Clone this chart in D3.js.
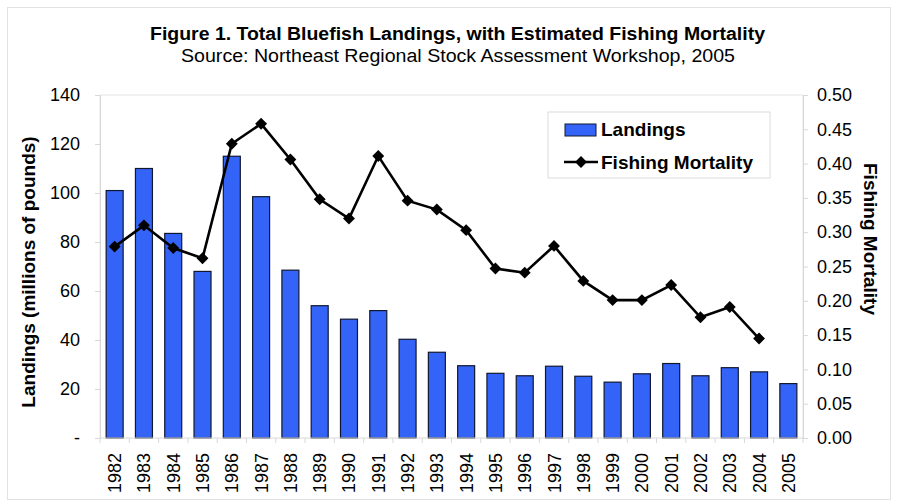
<!DOCTYPE html>
<html>
<head>
<meta charset="utf-8">
<script src="https://cdn.jsdelivr.net/npm/d3@7"></script>
<style>
body { margin: 0; background: #fff; }
text { font-family: Arial, "Liberation Sans", sans-serif; fill: #000; }
</style>
</head>
<body>
<script>
const years = ["1982","1983","1984","1985","1986","1987","1988","1989","1990","1991","1992","1993",
  "1994","1995","1996","1997","1998","1999","2000","2001","2002","2003","2004","2005"];
const landings = [101, 110, 83.5, 68, 115, 98.5, 68.5, 54, 48.5, 52, 40.3, 35,
  29.5, 26.4, 25.4, 29.3, 25.2, 22.8, 26.2, 30.4, 25.4, 28.7, 27, 22.2];
const mortality = [0.279, 0.310, 0.277, 0.262, 0.429, 0.458, 0.406, 0.348, 0.320, 0.411, 0.346, 0.333,
  0.303, 0.247, 0.241, 0.280, 0.229, 0.201, 0.201, 0.223, 0.176, 0.191, 0.145, null];
const leftTicks = [0, 20, 40, 60, 80, 100, 120, 140];
const rightTicks = [0, 0.05, 0.10, 0.15, 0.20, 0.25, 0.30, 0.35, 0.40, 0.45, 0.50];

const W = 898, H = 500;
const m = {top: 95, left: 100, bottom: 62, right: 95};
const w = W - m.left - m.right, h = H - m.top - m.bottom;

const svg = d3.select("body").append("svg").attr("width", W).attr("height", H);

svg.append("rect").attr("x", 7.5).attr("y", 7.5).attr("width", W - 15).attr("height", H - 8)
  .attr("fill", "none").attr("stroke", "#e2e2e2");

svg.append("text").attr("x", 150).attr("y", 40)
  .attr("textLength", 615).attr("lengthAdjust", "spacingAndGlyphs")
  .style("font-weight", "bold").style("font-size", "18px")
  .text("Figure 1. Total Bluefish Landings, with Estimated Fishing Mortality");
svg.append("text").attr("x", 181).attr("y", 62)
  .attr("textLength", 554).attr("lengthAdjust", "spacingAndGlyphs")
  .style("font-size", "18px")
  .text("Source: Northeast Regional Stock Assessment Workshop, 2005");

const g = svg.append("g").attr("transform", "translate(" + m.left + "," + m.top + ")");

const x = d3.scaleBand().domain(years).range([0, w]).paddingInner(0.42).paddingOuter(0.21);
const y = d3.scaleLinear().domain([0, 140]).range([h, 0]);
const y2 = d3.scaleLinear().domain([0, 0.5]).range([h, 0]);

// plot frame
g.append("path").attr("d", "M0," + h + "V0H" + w + "V" + h).attr("fill", "none").attr("stroke", "#e4e4e4");

const yAxis = g.append("g").call(d3.axisLeft(y).tickValues(leftTicks).tickSize(5).tickPadding(15)
  .tickFormat(d => d === 0 ? "-" : d));
const y2Axis = g.append("g").attr("transform", "translate(" + w + ",0)")
  .call(d3.axisRight(y2).tickValues(rightTicks).tickSize(5).tickPadding(9).tickFormat(d3.format(".2f")));
[yAxis, y2Axis].forEach(a => {
  a.selectAll("path, line").attr("stroke", "#d8d8d8");
  a.selectAll("text").style("font-size", "18px").attr("fill", "#111");
});

g.selectAll(".bar").data(years).enter().append("rect")
  .attr("x", d => x(d)).attr("width", x.bandwidth())
  .attr("y", (d, i) => y(landings[i])).attr("height", (d, i) => h - y(landings[i]))
  .attr("fill", "#3464f7").attr("stroke", "#101830").attr("stroke-width", 1.2);

// x axis with ticks between categories
const step = x.step();
const xa = g.append("g").attr("transform", "translate(0," + h + ")");
xa.append("line").attr("x1", 0).attr("x2", w).attr("stroke", "#d8d8d8");
xa.selectAll(".tk").data(d3.range(years.length + 1)).enter().append("line")
  .attr("x1", i => i * step).attr("x2", i => i * step).attr("y1", 0).attr("y2", 5).attr("stroke", "#d8d8d8");
xa.selectAll(".lb").data(years).enter().append("text")
  .attr("transform", d => "translate(" + (x(d) + x.bandwidth() / 2 + 6.5) + ",15) rotate(-90)")
  .attr("text-anchor", "end").style("font-size", "18px").attr("fill", "#111").text(d => d);

const pts = years.map((d, i) => ({yr: d, v: mortality[i]})).filter(p => p.v != null);
const line = d3.line().x(p => x(p.yr) + x.bandwidth() / 2).y(p => y2(p.v));
g.append("path").datum(pts).attr("d", line).attr("fill", "none").attr("stroke", "#000").attr("stroke-width", 2.6);
const diamond = d3.symbol().type(d3.symbolDiamond2).size(90);
g.selectAll(".pt").data(pts).enter().append("path").attr("d", diamond)
  .attr("transform", p => "translate(" + (x(p.yr) + x.bandwidth() / 2) + "," + y2(p.v) + ")")
  .attr("fill", "#000");

// axis titles
svg.append("text").attr("transform", "translate(35,272) rotate(-90)").attr("text-anchor", "middle")
  .style("font-weight", "bold").style("font-size", "19px").text("Landings (millions of pounds)");
svg.append("text").attr("transform", "translate(864,239) rotate(90)").attr("text-anchor", "middle")
  .style("font-weight", "bold").style("font-size", "19px").text("Fishing Mortality");

// legend
const lg = svg.append("g").attr("transform", "translate(548,112)");
lg.append("rect").attr("width", 222).attr("height", 66).attr("fill", "#fff").attr("stroke", "#dcdcdc");
lg.append("rect").attr("x", 17).attr("y", 12).attr("width", 31).attr("height", 12)
  .attr("fill", "#3464f7").attr("stroke", "#101830");
lg.append("text").attr("x", 53).attr("y", 24).style("font-weight", "bold").style("font-size", "19px").text("Landings");
lg.append("line").attr("x1", 16).attr("x2", 50).attr("y1", 50).attr("y2", 50).attr("stroke", "#000").attr("stroke-width", 2.6);
lg.append("path").attr("d", diamond).attr("transform", "translate(33,50)").attr("fill", "#000");
lg.append("text").attr("x", 53).attr("y", 57).style("font-weight", "bold").style("font-size", "19px").text("Fishing Mortality");
</script>
</body>
</html>
